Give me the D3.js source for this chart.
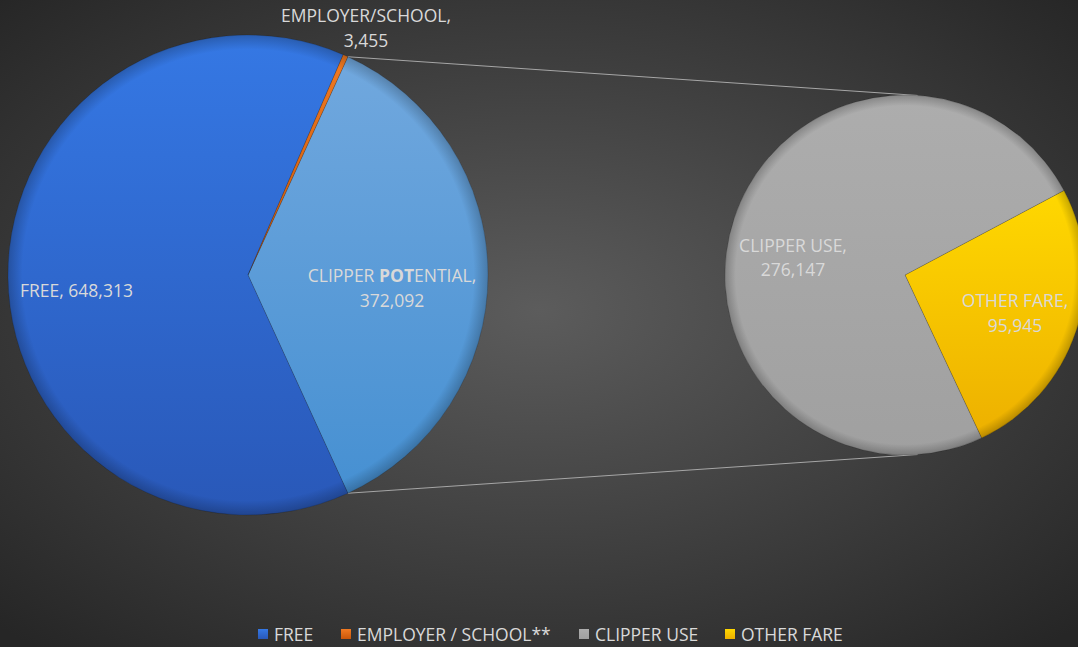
<!DOCTYPE html>
<html>
<head>
<meta charset="utf-8">
<script src="https://cdn.jsdelivr.net/npm/d3@7"></script>
<style>
  html, body { margin: 0; padding: 0; background: #3a3a3a; }
  svg { display: block; }
  text { font-family: "Open Sans", "Liberation Sans", sans-serif; fill: #d9d9d9; }
</style>
</head>
<body>
<svg></svg>
<script>
const width = 1078;
const height = 647;

// main pie
const mainNames = ["CLIPPER POTENTIAL", "FREE", "EMPLOYER/SCHOOL"];
const mainValues = [372092, 648313, 3455];
// secondary pie (split of clipper potential)
const subNames = ["OTHER FARE", "CLIPPER USE"];
const subValues = [95945, 276147];
// legend
const legendNames = ["FREE", "EMPLOYER / SCHOOL**", "CLIPPER USE", "OTHER FARE"];

const svg = d3.select("svg")
    .attr("width", width)
    .attr("height", height);

const defs = svg.append("defs");

const bg = defs.append("radialGradient").attr("id", "bg")
    .attr("cx", "50%").attr("cy", "48%").attr("r", "70%");
bg.append("stop").attr("offset", "0%").attr("stop-color", "#5c5c5c");
bg.append("stop").attr("offset", "100%").attr("stop-color", "#262626");

function linGrad(id, c1, c2) {
    const g = defs.append("linearGradient").attr("id", id)
        .attr("x1", 0).attr("y1", 0).attr("x2", 0).attr("y2", 1);
    g.append("stop").attr("offset", "0%").attr("stop-color", c1);
    g.append("stop").attr("offset", "100%").attr("stop-color", c2);
}
linGrad("gFree", "#3578e4", "#2958b8");
linGrad("gEmp", "#f07a22", "#c8560a");
linGrad("gPot", "#71a8de", "#4690d2");
linGrad("gUse", "#adadad", "#a0a0a0");
linGrad("gOther", "#ffd800", "#edb000");

// bevel-ish darkening at the rim
const rim = defs.append("radialGradient").attr("id", "rim")
    .attr("cx", "50%").attr("cy", "50%").attr("r", "50%");
rim.append("stop").attr("offset", "94%").attr("stop-color", "#000").attr("stop-opacity", 0);
rim.append("stop").attr("offset", "100%").attr("stop-color", "#000").attr("stop-opacity", 0.22);

svg.append("rect")
    .attr("width", width)
    .attr("height", height)
    .attr("fill", "url(#bg)");

const mainFill = { "FREE": "url(#gFree)", "EMPLOYER/SCHOOL": "url(#gEmp)", "CLIPPER POTENTIAL": "url(#gPot)" };
const subFill = { "CLIPPER USE": "url(#gUse)", "OTHER FARE": "url(#gOther)" };

const mainCx = 248, mainCy = 275, mainR = 240;
const subCx = 905, subCy = 275, subR = 180;

const total = d3.sum(mainValues);
const potAngle = 2 * Math.PI * mainValues[0] / total;
const mainStart = Math.PI / 2 - potAngle / 2;

const mainPie = d3.pie().sort(null)
    .startAngle(mainStart).endAngle(mainStart + 2 * Math.PI);
const mainArcs = mainPie(mainValues);

const subStart = 62 * Math.PI / 180;
const subPie = d3.pie().sort(null)
    .startAngle(subStart).endAngle(subStart + 2 * Math.PI);
const subArcs = subPie(subValues);

const mainArc = d3.arc().innerRadius(0).outerRadius(mainR);
const subArc = d3.arc().innerRadius(0).outerRadius(subR);

// connector lines
const potA = mainArcs[0];
function pt(cx, cy, r, a) { return [cx + r * Math.sin(a), cy - r * Math.cos(a)]; }
const conn = [
    [pt(mainCx, mainCy, mainR, potA.startAngle), pt(subCx, subCy, subR, 4 * Math.PI / 180)],
    [pt(mainCx, mainCy, mainR, potA.endAngle), pt(subCx, subCy, subR, 176 * Math.PI / 180)]
];
svg.append("g").selectAll("line")
    .data(conn)
    .join("line")
    .attr("x1", d => d[0][0]).attr("y1", d => d[0][1])
    .attr("x2", d => d[1][0]).attr("y2", d => d[1][1])
    .attr("stroke", "#a6a6a6")
    .attr("stroke-width", 1);

const gMain = svg.append("g")
    .attr("transform", `translate(${mainCx},${mainCy})`);
gMain.selectAll("path")
    .data(mainArcs)
    .join("path")
    .attr("d", mainArc)
    .attr("fill", (d, i) => mainFill[mainNames[i]])
    .attr("stroke", "rgba(0,0,0,0.15)")
    .attr("stroke-width", 1);
gMain.append("circle").attr("r", mainR).attr("fill", "url(#rim)");

const gSub = svg.append("g")
    .attr("transform", `translate(${subCx},${subCy})`);
gSub.selectAll("path")
    .data(subArcs)
    .join("path")
    .attr("d", subArc)
    .attr("fill", (d, i) => subFill[subNames[i]])
    .attr("stroke", "rgba(0,0,0,0.15)")
    .attr("stroke-width", 1);
gSub.append("circle").attr("r", subR).attr("fill", "url(#rim)");

const fmt = d3.format(",");
const fs = 17.5;

// data labels
function label2(x, y1, y2, line1, line2) {
    const t = svg.append("text").attr("text-anchor", "middle").attr("font-size", fs);
    t.append("tspan").attr("x", x).attr("y", y1).text(line1);
    t.append("tspan").attr("x", x).attr("y", y2).text(line2);
    return t;
}
label2(366, 22, 47, mainNames[2] + ",", fmt(mainValues[2]));

const potLabel = svg.append("text").attr("text-anchor", "middle").attr("font-size", fs);
const potLine = potLabel.append("tspan").attr("x", 392).attr("y", 282);
potLine.append("tspan").text("CLIPPER ");
potLine.append("tspan").attr("font-weight", "bold").text("POT");
potLine.append("tspan").text("ENTIAL,");
potLabel.append("tspan").attr("x", 392).attr("y", 307).text(fmt(mainValues[0]));

svg.append("text")
    .attr("x", 20).attr("y", 297)
    .attr("font-size", fs)
    .text(mainNames[1] + ", " + fmt(mainValues[1]));

label2(793, 252, 276, subNames[1] + ",", fmt(subValues[1]));
label2(1015, 307, 332, subNames[0] + ",", fmt(subValues[0]));

// legend
const legendColors = ["url(#gFree)", "url(#gEmp)", "url(#gUse)", "url(#gOther)"];
const legendX = [258, 341, 579, 725];
const legend = svg.append("g").selectAll("g")
    .data(legendNames)
    .join("g")
    .attr("transform", (d, i) => `translate(${legendX[i]},629)`);
legend.append("rect")
    .attr("width", 10).attr("height", 10)
    .attr("fill", (d, i) => legendColors[i]);
legend.append("text")
    .attr("x", 16).attr("y", 12)
    .attr("font-size", 17.5)
    .text(d => d);
</script>
</body>
</html>
